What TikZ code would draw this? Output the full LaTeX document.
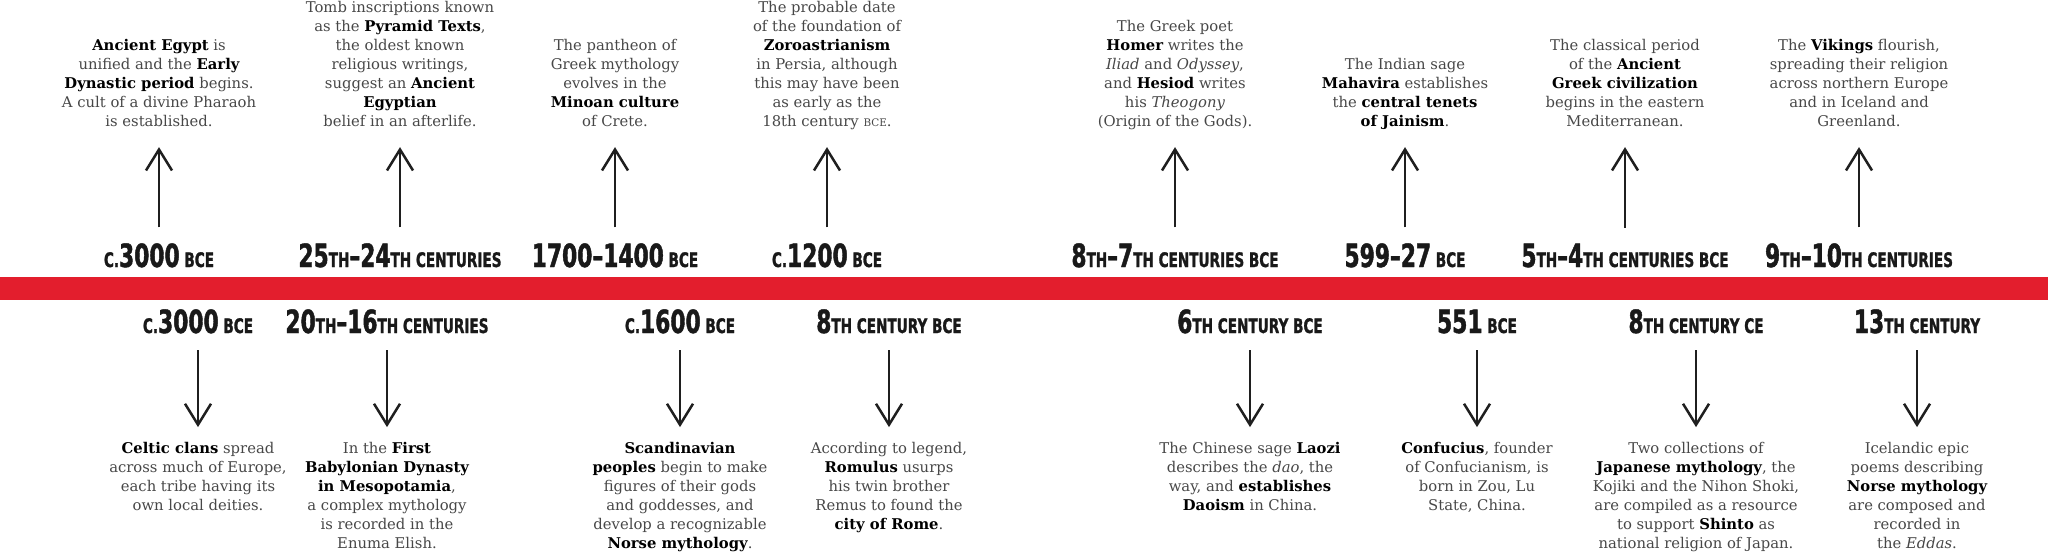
\documentclass[tikz,border=0pt]{standalone}
\usepackage{fontspec}
\setmainfont{DejaVu Serif}
\newfontfamily\datefont[Ligatures=TeX,FakeStretch=0.68,BoldFeatures={FakeBold=1.3}]{DejaVu Sans}
\usetikzlibrary{arrows.meta}
\definecolor{timered}{RGB}{227,30,45}
\newcommand\dsc[1]{{\fontsize{10}{10}\selectfont #1}}
\newcommand\kw[1]{{\color{black}\bfseries #1}}
\newcommand\smbce{{\fontsize{5.2}{5.2}\selectfont BCE}}

\begin{document}
\begin{tikzpicture}[x=0.5pt,y=-0.5pt,
  evtext/.style={inner sep=0pt,align=center,text=black!72,font=\fontsize{7.4}{9.5}\selectfont,execute at begin node=\strut,execute at end node=\strut},
  evdate/.style={inner sep=0pt,anchor=base,text depth=0pt,text=black!90,font=\datefont\bfseries\fontsize{16}{16}\selectfont},
  evup/.style={-{Straight Barb[length=10.5pt,width=13pt]},line width=1.25pt,black!88,shorten <=7.8pt,shorten >=7.2pt},
  evdown/.style={evup,shorten <=8.5pt,shorten >=7.3pt}]
\useasboundingbox (0,0) rectangle (2048,557);
\fill[timered] (0,277) rectangle (2048,300);

\node[evtext,anchor=south] (t1) at (159,132.7) {\kw{Ancient Egypt} is\\ unified and the \kw{Early}\\ \kw{Dynastic period} begins.\\ A cult of a divine Pharaoh\\ is established.};
\node[evtext,anchor=south] (t2) at (400,132.7) {Tomb inscriptions known\\ as the \kw{Pyramid Texts},\\ the oldest known\\ religious writings,\\ suggest an \kw{Ancient}\\ \kw{Egyptian}\\ belief in an afterlife.};
\node[evtext,anchor=south] (t3) at (615,132.7) {The pantheon of\\ Greek mythology\\ evolves in the\\ \kw{Minoan culture}\\ of Crete.};
\node[evtext,anchor=south] (t4) at (827,132.7) {The probable date\\ of the foundation of\\ \kw{Zoroastrianism}\\ in Persia, although\\ this may have been\\ as early as the\\ 18th century \smbce.};
\node[evtext,anchor=south] (t5) at (1175,132.7) {The Greek poet\\ \kw{Homer} writes the\\ \textit{Iliad} and \textit{Odyssey},\\ and \kw{Hesiod} writes\\ his \textit{Theogony}\\ (Origin of the Gods).};
\node[evtext,anchor=south] (t6) at (1405,132.7) {The Indian sage\\ \kw{Mahavira} establishes\\ the \kw{central tenets}\\ \kw{of Jainism}.};
\node[evtext,anchor=south] (t7) at (1625,132.7) {The classical period\\ of the \kw{Ancient}\\ \kw{Greek civilization}\\ begins in the eastern\\ Mediterranean.};
\node[evtext,anchor=south] (t8) at (1859,132.7) {The \kw{Vikings} flourish,\\ spreading their religion\\ across northern Europe\\ and in Iceland and\\ Greenland.};

\node[evdate] (td1) at (159,267) {\dsc{C.}3000\dsc{ BCE}};
\node[evdate] (td2) at (400,267) {25\dsc{TH}--24\dsc{TH CENTURIES}};
\node[evdate] (td3) at (615,267) {1700--1400\dsc{ BCE}};
\node[evdate] (td4) at (827,267) {\dsc{C.}1200\dsc{ BCE}};
\node[evdate] (td5) at (1175,267) {8\dsc{TH}--7\dsc{TH CENTURIES BCE}};
\node[evdate] (td6) at (1405,267) {599--27\dsc{ BCE}};
\node[evdate] (td7) at (1625,267) {5\dsc{TH}--4\dsc{TH CENTURIES BCE}};
\node[evdate] (td8) at (1859,267) {9\dsc{TH}--10\dsc{TH CENTURIES}};

\node[evdate] (bd1) at (198,333) {\dsc{C.}3000\dsc{ BCE}};
\node[evdate] (bd2) at (387,333) {20\dsc{TH}--16\dsc{TH CENTURIES}};
\node[evdate] (bd3) at (680,333) {\dsc{C.}1600\dsc{ BCE}};
\node[evdate] (bd4) at (889,333) {8\dsc{TH CENTURY BCE}};
\node[evdate] (bd5) at (1250,333) {6\dsc{TH CENTURY BCE}};
\node[evdate] (bd6) at (1477,333) {551\dsc{ BCE}};
\node[evdate] (bd7) at (1696,333) {8\dsc{TH CENTURY CE}};
\node[evdate] (bd8) at (1917,333) {13\dsc{TH CENTURY}};

\node[evtext,anchor=north] (b1) at (198,441.7) {\kw{Celtic clans} spread\\ across much of Europe,\\ each tribe having its\\ own local deities.};
\node[evtext,anchor=north] (b2) at (387,441.7) {In the \kw{First}\\ \kw{Babylonian Dynasty}\\ \kw{in Mesopotamia},\\ a complex mythology\\ is recorded in the\\ Enuma Elish.};
\node[evtext,anchor=north] (b3) at (680,441.7) {\kw{Scandinavian}\\ \kw{peoples} begin to make\\ figures of their gods\\ and goddesses, and\\ develop a recognizable\\ \kw{Norse mythology}.};
\node[evtext,anchor=north] (b4) at (889,441.7) {According to legend,\\ \kw{Romulus} usurps\\ his twin brother\\ Remus to found the\\ \kw{city of Rome}.};
\node[evtext,anchor=north] (b5) at (1250,441.7) {The Chinese sage \kw{Laozi}\\ describes the \textit{dao}, the\\ way, and \kw{establishes}\\ \kw{Daoism} in China.};
\node[evtext,anchor=north] (b6) at (1477,441.7) {\kw{Confucius}, founder\\ of Confucianism, is\\ born in Zou, Lu\\ State, China.};
\node[evtext,anchor=north] (b7) at (1696,441.7) {Two collections of\\ \kw{Japanese mythology}, the\\ Kojiki and the Nihon Shoki,\\ are compiled as a resource\\ to support \kw{Shinto} as\\ national religion of Japan.};
\node[evtext,anchor=north] (b8) at (1917,441.7) {Icelandic epic\\ poems describing\\ \kw{Norse mythology}\\ are composed and\\ recorded in\\ the \textit{Eddas}.};

\foreach \i in {1,...,8}
  \draw[evup] (td\i.north) -- (t\i.south);
\foreach \i in {1,...,8}
  \draw[evdown] (bd\i.south) -- (b\i.north);
\end{tikzpicture}
\end{document}
